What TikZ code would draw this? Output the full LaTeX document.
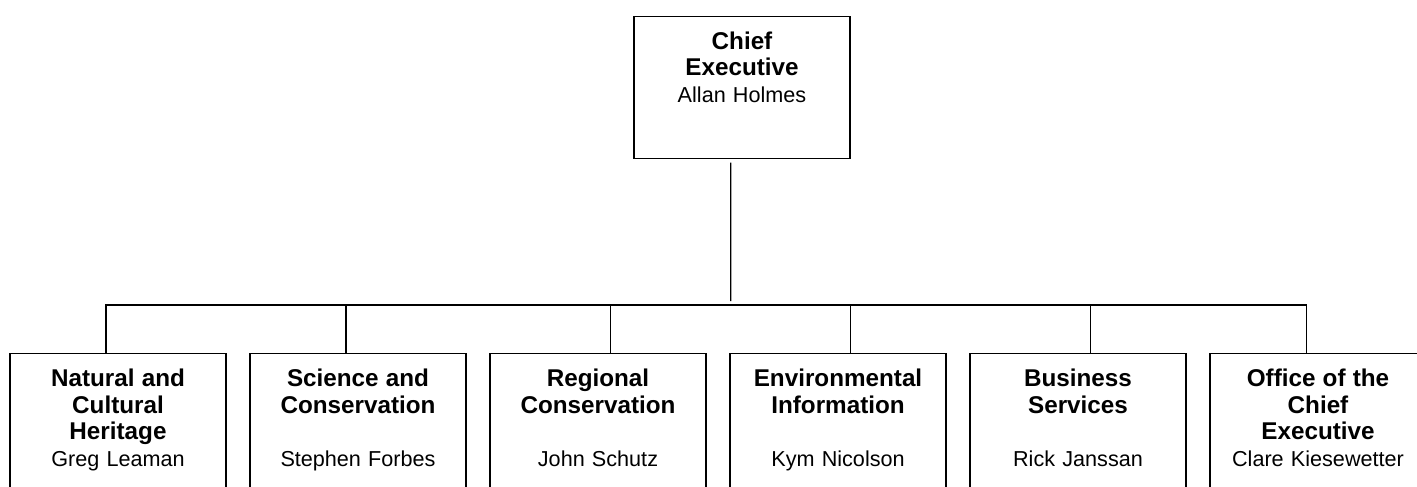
\documentclass[tikz,border=0pt]{standalone}
\usepackage{fontspec}
\setmainfont{Liberation Sans}
\usepackage{tikz}
\usetikzlibrary{positioning}

% bold unit titles are set a size up from the names
\newcommand{\unitname}[1]{{\fontsize{13.8}{15.1}\selectfont\bfseries #1}}

\tikzset{
  orgbox/.style={draw, line width=0.75pt, anchor=north, text width=4.0cm, inner xsep=0.16cm, inner ysep=0pt, align=center, font=\fontsize{12.3}{15.1}\selectfont, text height=0.66cm, text depth=3cm},
  orgline/.style={line width=0.7pt}
}

\begin{document}
\begin{tikzpicture}
  \useasboundingbox (0, 0) rectangle (28.34, -9.72);
  \clip (0, 0) rectangle (28.34, -9.72);

  % Head of the agency
  \node[orgbox, text depth=2.18cm] (chief) at (14.84, -0.314) {
    \unitname{Chief}\\\unitname{Executive}\\Allan Holmes
  };

  % Divisions
  \node[orgbox] (natural) at (2.36, -7.06) {
    \unitname{Natural and}\\\unitname{Cultural}\\\unitname{Heritage}\\Greg Leaman
  };
  \node[orgbox] (science) at (7.16, -7.06) {
    \unitname{Science and}\\\unitname{Conservation}\\[\baselineskip]Stephen Forbes
  };
  \node[orgbox] (regional) at (11.96, -7.06) {
    \unitname{Regional}\\\unitname{Conservation}\\[\baselineskip]John Schutz
  };
  \node[orgbox] (environ) at (16.76, -7.06) {
    \unitname{Environmental}\\\unitname{Information}\\[\baselineskip]Kym Nicolson
  };
  \node[orgbox] (business) at (21.56, -7.06) {
    \unitname{Business}\\\unitname{Services}\\[\baselineskip]Rick Janssan
  };
  \node[orgbox] (office) at (26.36, -7.06) {
    \unitname{Office of the}\\\unitname{Chief}\\\unitname{Executive}\\Clare Kiesewetter
  };

  % Reporting lines
  \coordinate (bus) at (14.614, -6.1);
  \draw[orgline, shorten <=0.07cm, shorten >=0.08cm] ([xshift=-0.226cm]chief.south) -- (bus);
  \draw[orgline] ([xshift=-0.24cm]natural.north) |- (bus);
  \draw[orgline] ([xshift=-0.24cm]science.north) |- (bus);
  \draw[orgline] ([xshift=0.254cm]regional.north) |- (bus);
  \draw[orgline] ([xshift=0.246cm]environ.north) |- (bus);
  \draw[orgline] ([xshift=0.254cm]business.north) |- (bus);
  \draw[orgline] ([xshift=-0.226cm]office.north) |- (bus);
\end{tikzpicture}
\end{document}
